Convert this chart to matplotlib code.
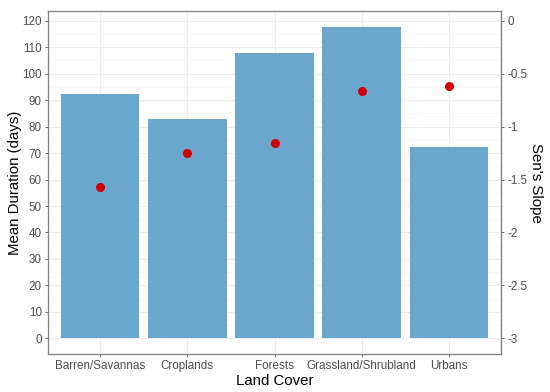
import numpy as np
import matplotlib
matplotlib.use("Agg")
import matplotlib.pyplot as plt
from matplotlib.ticker import MultipleLocator

plt.rcParams['font.family'] = ['Liberation Sans', 'DejaVu Sans']

land_cover = ["Barren/Savannas", "Croplands", "Forests", "Grassland/Shrubland", "Urbans"]
mean_duration = [92.2, 82.9, 108.0, 117.8, 72.4]
sens_slope = [-1.57, -1.25, -1.15, -0.66, -0.62]
slope_ticks = [0, -0.5, -1, -1.5, -2, -2.5, -3]
slope_labels = ["0", "-0.5", "-1", "-1.5", "-2", "-2.5", "-3"]

def to_primary(s):
    return (s + 3) * 40

def to_secondary(p):
    return p / 40 - 3

fig = plt.figure(figsize=(5.5, 3.92), dpi=100)
ax = fig.add_axes([0.0873, 0.097, 0.8236, 0.875])

x = np.arange(1, len(land_cover) + 1)
ax.bar(x, mean_duration, width=0.9, color="#6BA6CC", zorder=2)
ax.scatter(x, to_primary(np.array(sens_slope)), s=30, color="#D10000", zorder=3)

ax.set_xlim(0.4, 5.6)
ax.set_ylim(-5.9, 123.7)
ax.yaxis.set_major_locator(MultipleLocator(10))
ax.yaxis.set_minor_locator(MultipleLocator(5))
ax.set_xticks(x)
ax.set_xticklabels(land_cover)

ax.grid(which="major", color="#EBEBEB", linewidth=0.8, zorder=0)
ax.grid(which="minor", axis="y", color="#F4F4F4", linewidth=0.5, zorder=0)
ax.set_axisbelow(True)

for sp in ax.spines.values():
    sp.set_color("#7F7F7F")
    sp.set_linewidth(0.9)

ax.tick_params(axis="both", which="major", colors="#4D4D4D", labelsize=8.4, length=2.5, width=0.6, pad=2)
ax.tick_params(axis="y", which="minor", length=0)
for lab in ax.get_xticklabels() + ax.get_yticklabels():
    lab.set_color("#4D4D4D")

ax.set_xlabel("Land Cover", fontsize=10.8, color="black", labelpad=1)
ax.set_ylabel("Mean Duration (days)", fontsize=10.8, color="black", va="center")
ax.yaxis.set_label_coords(-0.073, 0.5)

# secondary axis for Sen's slope
sec = ax.secondary_yaxis("right", functions=(to_secondary, to_primary))
sec.set_yticks(slope_ticks)
sec.set_yticklabels(slope_labels)
sec.tick_params(colors="#4D4D4D", labelsize=8.4, length=2.5, width=0.6, pad=2)
sec.spines["right"].set_color("#7F7F7F")
sec.set_ylabel("Sen's Slope", fontsize=10.8, color="black", rotation=270, va="center")
sec.yaxis.set_label_coords(1.077, 0.5, transform=ax.transAxes)

fig.savefig("out.png", dpi=100)
